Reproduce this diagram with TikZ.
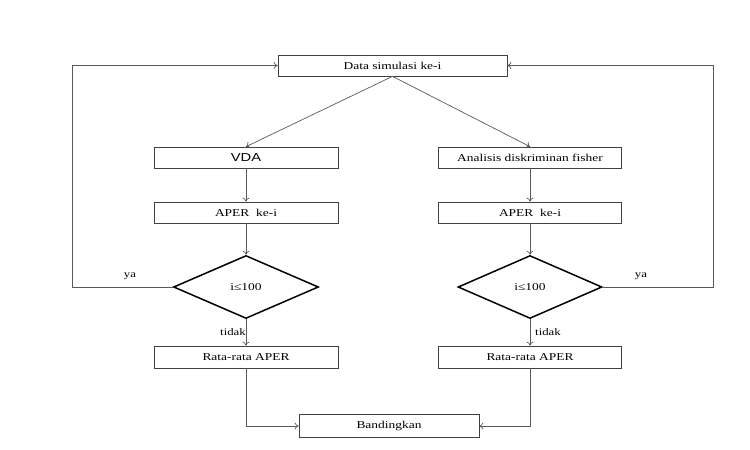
\documentclass[tikz,border=0pt]{standalone}
\usepackage{fontspec}
\setmainfont{Liberation Serif}[FakeStretch=1.28]
\newfontfamily\vdafont{Liberation Sans}[FakeStretch=1.28]
\usetikzlibrary{shapes.geometric,arrows.meta}
\tikzset{
  box/.style={draw=black!75, line width=0.7pt, rectangle, inner sep=0pt, minimum height=21pt, font=\fontsize{10.5}{12}\selectfont},
  dec/.style={draw=black, line width=1.5pt, diamond, inner sep=0pt, font=\fontsize{10.5}{12}\selectfont},
  conn/.style={draw=black!65, line width=0.7pt},
  arr/.style={conn, -{To[length=4pt,width=7pt]}},
  lbl/.style={inner sep=0pt, font=\fontsize{10}{12}\selectfont},
}
\begin{document}
\begin{tikzpicture}[x=1pt,y=-1pt]
\useasboundingbox (0,0) rectangle (750,450);
\node[box, minimum width=229pt] (top) at (392.5,65.5) {Data simulasi ke-i};
\node[box, minimum width=184pt, font=\fontsize{11.5}{13}\vdafont] (vda) at (246,157.5) {VDA};
\node[box, minimum width=183pt] (fis) at (530,157.5) {Analisis diskriminan fisher};
\node[box, minimum width=184pt] (ap1) at (246,212.5) {APER\ \ ke-i};
\node[box, minimum width=183pt] (ap2) at (530,212.5) {APER\ \ ke-i};
\node[dec, minimum width=145pt, minimum height=63pt] (d1) at (246,287) {i≤100};
\node[dec, minimum width=144pt, minimum height=63pt] (d2) at (530,287) {i≤100};
\node[box, minimum width=184pt, minimum height=22pt] (r1) at (246,357) {Rata-rata APER};
\node[box, minimum width=183pt, minimum height=22pt] (r2) at (530,357) {Rata-rata APER};
\node[box, minimum width=180pt, minimum height=23pt] (band) at (389,426) {Bandingkan};
\coordinate (lc) at (72,287);
\coordinate (rc) at (713,287);
\draw[arr] (top.south) -- (vda.north);
\draw[arr] (top.south) -- (fis.north);
\draw[arr] (vda) -- (ap1);
\draw[arr] (fis) -- (ap2);
\draw[arr] (ap1) -- (d1);
\draw[arr] (ap2) -- (d2);
\draw[arr] (d1) -- (r1);
\draw[arr] (d2) -- (r2);
\draw[arr] (d1.west) -- (lc) |- (top.west);
\draw[arr] (d2.east) -- (rc) |- (top.east);
\draw[arr] (r1.south) |- (band.west);
\draw[arr] (r2.south) |- (band.east);
\node[lbl] (ya1) at (130,276) {ya};
\node[lbl] (ya2) at (641,276) {ya};
\node[lbl] (t1) at (233,332) {tidak};
\node[lbl] (t2) at (548,332) {tidak};
\end{tikzpicture}
\end{document}
